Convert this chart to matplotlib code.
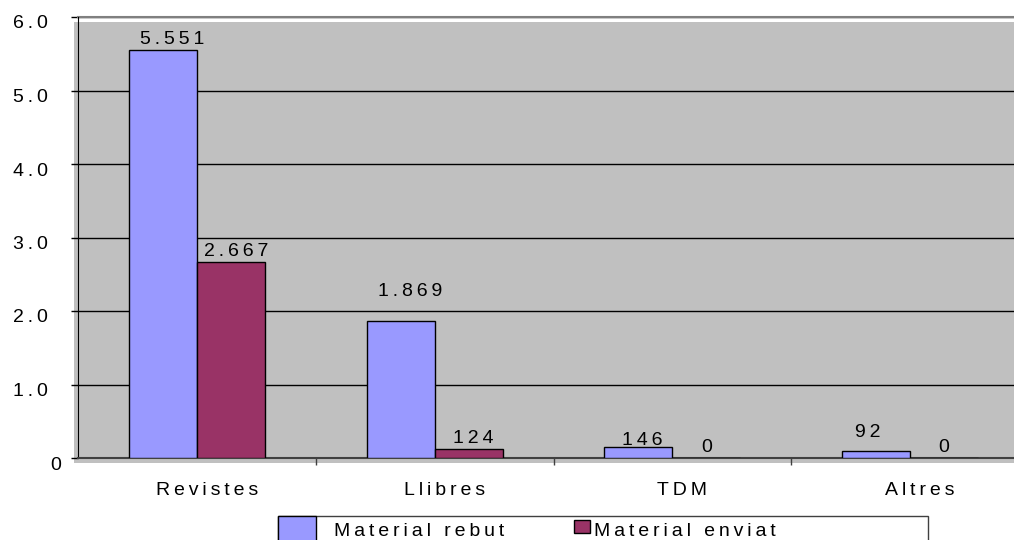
import matplotlib
matplotlib.use('Agg')
import matplotlib.pyplot as plt
from matplotlib.ticker import FixedLocator, FuncFormatter
from matplotlib.patches import Rectangle
from matplotlib.transforms import IdentityTransform, ScaledTranslation
import numpy as np

# Dades
categories = ['Revistes', 'Llibres', 'TDM', 'Altres']
rebut = [5551, 1869, 146, 92]
enviat = [2667, 124, 0, 0]
series_names = ['Material rebut', 'Material enviat']
y_ticks = [0, 1000, 2000, 3000, 4000, 5000, 6000]

blue = '#9999FF'
maroon = '#993366'
FS = 14

plt.rcParams['font.family'] = ['Liberation Sans', 'DejaVu Sans']
plt.rcParams['font.size'] = FS


def spaced(s):
    # imitació de l'espaiat de lletres d'Excel
    return '\u2009\u2009 '.join('\u2009'.join(w) for w in s.split())


def fmt_num(v):
    v = int(round(v))
    if v >= 1000:
        return f'{v // 1000}.{v % 1000:03d}'
    return str(v)


W, H = 1014, 540
PX = 0.72  # punts per píxel a 100 dpi
fig = plt.figure(figsize=(W / 100, H / 100), dpi=100, facecolor='white')
ax = fig.add_axes([78 / W, (H - 458) / H, (1029 - 78) / W, (458 - 17) / H])
ax.set_facecolor('none')

# fons gris de l'àrea de traçat (lleugerament desplaçat, com a Excel)
fig.add_artist(Rectangle((74, H - 463), W - 74, 463 - 22, transform=IdentityTransform(),
                         facecolor='#C0C0C0', edgecolor='none', zorder=-5))

x = np.arange(len(categories))
width = 0.286
b1 = ax.bar(x - width / 2, rebut, width, color=blue, edgecolor='black', linewidth=1,
            label=series_names[0], zorder=3)
b2 = ax.bar(x + width / 2, enviat, width, color=maroon, edgecolor='black', linewidth=1,
            label=series_names[1], zorder=3)

# etiquetes de dades (Excel les col·loca una mica irregulars), desplaçaments en píxels
nudge = {(0, 0): (9, 0), (0, 1): (9, 19), (0, 2): (4, -4), (0, 3): (-8, 8),
         (1, 0): (5, 0), (1, 1): (5, 0), (1, 2): (0, 0), (1, 3): (0, 0)}
for si, (bars, vals) in enumerate(((b1, rebut), (b2, enviat))):
    texts = ax.bar_label(bars, labels=[spaced(fmt_num(v)) for v in vals], padding=1.5,
                         fontsize=FS, color='black', zorder=4)
    for ci, t in enumerate(texts):
        dx, dy = nudge.get((si, ci), (0, 0))
        ox, oy = t.xyann
        t.xyann = (ox + dx * PX, oy + dy * PX)

ax.set_xlim(-0.5, len(categories) - 0.5)
ax.set_ylim(0, 6000)

# eix Y
ax.yaxis.set_major_locator(FixedLocator(y_ticks))
ax.yaxis.set_major_formatter(FuncFormatter(
    lambda v, p: '0' if v == 0 else spaced(f'{v / 1000:.1f}')))
ax.tick_params(axis='y', length=5, width=1, color='black', pad=7, labelsize=FS)
ax.grid(axis='y', color='black', linewidth=1, zorder=1)

# eix X: separadors a les vores, etiquetes al centre
ax.xaxis.set_major_locator(FixedLocator(x[:-1] + 0.5))
ax.xaxis.set_major_formatter(FuncFormatter(lambda v, p: ''))
ax.xaxis.set_minor_locator(FixedLocator(x))
ax.xaxis.set_minor_formatter(FuncFormatter(lambda v, p: spaced(categories[int(round(v))])))
ax.tick_params(axis='x', which='major', length=5, width=1, color='#404040', direction='out')
ax.tick_params(axis='x', which='minor', length=0, pad=17, labelsize=FS)

for side in ('top', 'right'):
    ax.spines[side].set_visible(False)
ax.spines['left'].set_color('black')
ax.spines['bottom'].set_color('#404040')
ax.spines['bottom'].set_linewidth(1.5)

# línia superior grisa
ax.axhline(6000, color='#808080', linewidth=1.5, zorder=2, clip_on=False)

fig.canvas.draw()
for lab, v in zip(ax.get_yticklabels(), y_ticks):
    dx = 0 if v == 0 else -13
    lab.set_transform(lab.get_transform() + ScaledTranslation(dx / 100, -5 / 100, fig.dpi_scale_trans))
for lab in ax.get_xticklabels(minor=True):
    lab.set_transform(lab.get_transform() + ScaledTranslation(10 / 100, 0, fig.dpi_scale_trans))

# llegenda dibuixada a mà (retallada per la vora inferior, com l'original)
ident = IdentityTransform()
fig.add_artist(Rectangle((278, -20), 928 - 278, H - 516 + 20, transform=ident,
                         facecolor='white', edgecolor='#404040', linewidth=1, zorder=5))
fig.add_artist(Rectangle((278, -20), 316 - 278, H - 516 + 20, transform=ident,
                         facecolor=blue, edgecolor='black', linewidth=1, zorder=6))
fig.add_artist(Rectangle((574, H - 533), 590 - 574, 533 - 520, transform=ident,
                         facecolor=maroon, edgecolor='black', linewidth=1, zorder=6))
fig.text(334 / W, 1 - 536 / H, spaced(series_names[0]), fontsize=FS, va='baseline',
         ha='left', zorder=7)
fig.text(594 / W, 1 - 536 / H, spaced(series_names[1]), fontsize=FS, va='baseline',
         ha='left', zorder=7)

fig.savefig('out.png', dpi=100, facecolor='white')
